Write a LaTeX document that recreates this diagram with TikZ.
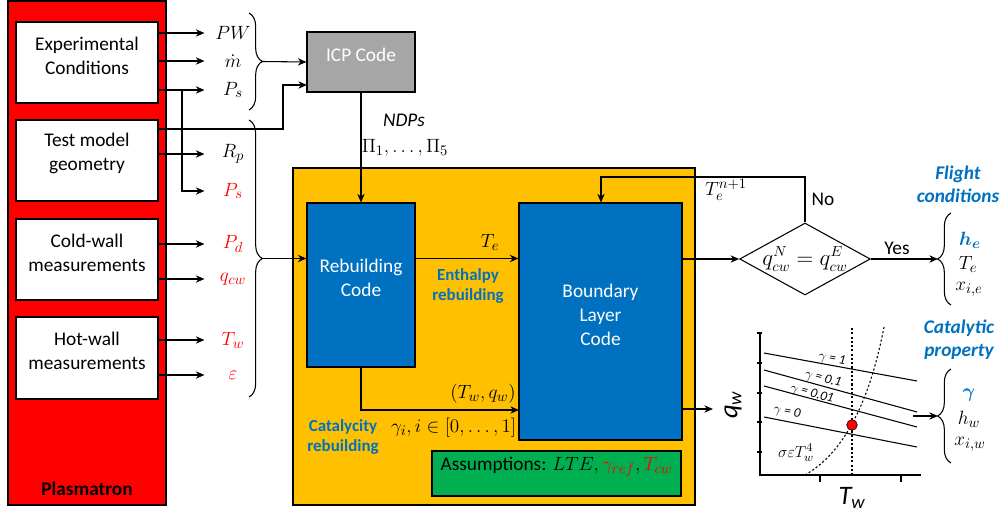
\documentclass[tikz,border=0pt]{standalone}
\usepackage{fontspec}
\usepackage{bm}
\setmainfont{Carlito}
\usetikzlibrary{arrows.meta,shapes.geometric,decorations.pathreplacing,fit,positioning}
\definecolor{plasred}{HTML}{FF0000}
\definecolor{codeblue}{HTML}{0070C0}
\definecolor{boxyellow}{HTML}{FFC000}
\definecolor{assgreen}{HTML}{00B050}
\definecolor{icpgrey}{HTML}{A6A6A6}
\definecolor{tagblue}{HTML}{0070C0}
\tikzset{
  blk/.style={draw, inner sep=0pt, align=center},
  mth/.style={inner sep=1pt, font=\fontsize{15.5}{18}\selectfont},
  lab/.style={mth, minimum width=42pt, inner sep=0pt},
  tag/.style={text=tagblue, align=center, font=\fontsize{12.7}{15}\selectfont\bfseries},
  bigtag/.style={text=tagblue, align=center, font=\fontsize{14.5}{17.5}\selectfont\bfseries\itshape},
  brc/.style={decorate, decoration={brace, amplitude=10pt}},
  gam/.style={font=\fontsize{10}{11}\selectfont\itshape, inner sep=0pt},
  dots/.style={dash pattern=on 1.6pt off 1.6pt}
}
\begin{document}
\begin{tikzpicture}[x=0.75pt,y=-0.75pt, line width=0.8pt,
  >={Stealth[length=6.5pt,width=5.5pt]},
  font=\fontsize{14.5}{18}\selectfont]
\useasboundingbox (0,0) rectangle (1008,517);
\node[blk, fill=plasred, fit={(8,1)(166,505)}] (plasma) {};
\node[font=\fontsize{14.5}{18}\selectfont\bfseries] (plasmalab) at (87,489) {Plasmatron};
\foreach \nm/\ya/\yb/\txt in {expc/22/103/{Experimental\\Conditions},
  geom/120/201/{Test model\\geometry}, cold/219/300/{Cold-wall\\measurements},
  hot/317/399/{Hot-wall\\measurements}}
  \node[blk, fill=white, fit={(16,\ya)(158,\yb)}] (\nm) {\txt};
\foreach \nm/\yy/\txt/\col in {pw/33/PW/black, mdot/61/\dot{m}/black, ps/90/P_s/black,
  rp/154/R_p/black, psr/191/P_s/red, pd/244/P_d/red, qcw/279/q_{cw}/red,
  tw/340/T_w/red, eps/375/\varepsilon/red}
  \node[lab, text=\col] (\nm) at (233,\yy) {$\txt$};
\foreach \nm/\src in {pw/expc, mdot/expc, ps/expc, rp/geom, pd/cold, qcw/cold, tw/hot, eps/hot}
  \draw[->] (\src.east |- \nm.west) -- (\nm.west);
\coordinate (psjoint) at (182,90);
\draw[->] (psjoint) |- (psr.west);

\draw[brc] (249,13) -- (249,110);
\draw[brc] (249,120) -- (249,397);
\coordinate (b1tip) at (262,61.5);
\coordinate (b2tip) at (262,258.5);

\node[blk, fill=icpgrey, text=white, fit={(307,32)(415,92)}] (icp) {ICP Code};
\draw[->] (b1tip) -- (icp.west);
\coordinate (geomout) at (158,129);
\coordinate (icpin) at (307,85);
\draw[->] (geomout) -| (283,85) -- (icpin);

\node[blk, fill=boxyellow, fit={(293,168)(695,505)}] (frame) {};
\node[blk, fill=codeblue, text=white, fit={(307,203)(415,367)}] (rebuild) {Rebuilding\\Code};
\node[blk, fill=codeblue, text=white, fit={(519,203)(682,440)}] (blc) {Boundary\\Layer\\Code};
\node[blk, fill=assgreen, fit={(432,451)(681,496)}] (assume)
  {Assumptions: {\fontsize{15}{18}\selectfont$LTE,\textcolor{red}{\gamma_{ref}},\textcolor{red}{T_{cw}}$}};
\draw[->] (icp.south) -- (rebuild.north);
\node[font=\fontsize{14.5}{18}\selectfont\itshape] (ndp) at (404,120) {NDPs};
\node[mth] (pis) at (405,148) {$\Pi_1,\ldots,\Pi_5$};
\draw[->] (b2tip) -- (rebuild.west |- b2tip);
\draw[->] (rebuild.east |- b2tip) -- (blc.west |- b2tip);
\node[mth] (telab) at (490,242) {$T_e$};
\node[tag] (enth) at (468,286) {Enthalpy\\rebuilding};
\coordinate (blin2) at (519,410);
\draw[->] (rebuild.south) |- (blin2);
\node[mth] (twqw) at (483,394) {$(T_w,q_w)$};
\node[mth, anchor=east, font=\fontsize{15}{18}\selectfont] (gami) at (518,428) {$\gamma_i, i\in[0,\ldots,1]$};
\node[tag] (cata) at (343,437) {Catalycity\\rebuilding};

\node[diamond, draw, fill=white, aspect=1.8, inner sep=0pt, minimum width=98pt,
  minimum height=54pt, font=\fontsize{16}{19}\selectfont] (conv) at (805,259) {$q_{cw}^N=q_{cw}^E$};
\draw[->] (blc.east |- conv.west) -- (conv.west);
\coordinate (fbturn) at (601,177);
\draw[->] (conv.north) |- (fbturn) -- (blc.north -| fbturn);
\node[mth] (tnext) at (726,190) {$T_e^{n+1}$};
\node (nolab) at (823,199) {No};
\coordinate (b3tip) at (938,259);
\draw[->] (conv.east) -- (b3tip);
\node (yeslab) at (897,248) {Yes};
\draw[brc] (951,305) -- (951,213);
\node[bigtag] (flight) at (958,184) {Flight\\conditions};
\node[mth, text=tagblue] (he) at (970,240) {$\bm{h_e}$};
\node[mth] (te) at (968,264) {$T_e$};
\node[mth] (xie) at (969,289) {$x_{i,e}$};

\coordinate (blout) at (682,409);
\coordinate (graphin) at (713,409);
\draw[->] (blout) -- (graphin);
\draw[line width=1pt] (760,332) -- (760,475) -- (921,475);
\foreach \ty in {333,363,393,422,452}
  \draw (757,\ty) -- (762,\ty);
\foreach \tx in {820,901}
  \draw (\tx,475) -- (\tx,482);
\foreach \ya/\yb/\lx/\ly/\ang/\g in {353/381/832/359/-10/1, 370/412/823/379/-15/0.1,
  386/427/812/394/-15/0.01, 417/447/787/412/-11/0}
{
  \draw (764,\ya) -- (917,\yb);
  \node[gam, rotate=\ang] at (\lx,\ly) {$\gamma$ = \g};
}
\draw[dots] (852,328) -- (852,475);
\draw[dots] (805,475) .. controls (840,455) and (868,410) .. (884,327);
\fill[red, draw=black, line width=0.4pt] (852,425) circle (4pt);
\node[font=\fontsize{13}{14}\selectfont\itshape] (sig) at (796,453) {$\sigma\varepsilon T_w^4$};
\node[font=\fontsize{20}{22}\selectfont\itshape, rotate=90] (qwax) at (733,405) {q\textsubscript{w}};
\node[font=\fontsize{20}{22}\selectfont\itshape] (twax) at (852,498) {T\textsubscript{w}};
\coordinate (graphout) at (913,416);
\coordinate (b4tip) at (938,416);
\draw[->] (graphout) -- (b4tip);
\draw[brc] (951,463) -- (951,369);
\node[bigtag] (catprop) at (959,340) {Catalytic\\property};
\node[mth, text=tagblue] (gam) at (969,395) {$\bm{\gamma}$};
\node[mth] (hw) at (969,419) {$h_w$};
\node[mth] (xiw) at (970,444) {$x_{i,w}$};
\end{tikzpicture}
\end{document}
